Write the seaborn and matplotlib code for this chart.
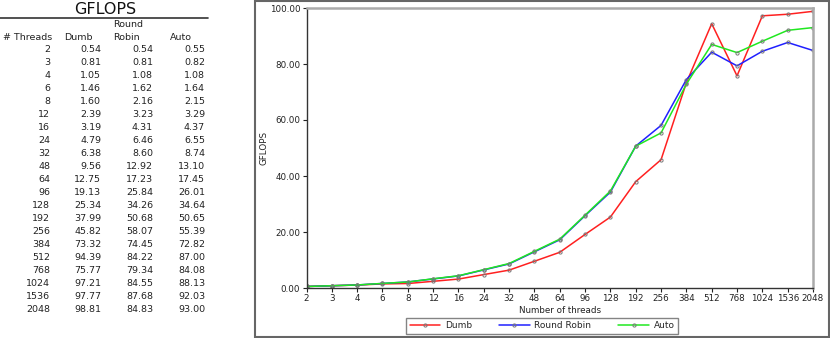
import matplotlib
matplotlib.use("Agg")
import matplotlib.pyplot as plt
import seaborn as sns
import pandas as pd
from matplotlib.patches import Rectangle
from matplotlib.lines import Line2D

threads = ["2", "3", "4", "6", "8", "12", "16", "24", "32", "48", "64", "96",
           "128", "192", "256", "384", "512", "768", "1024", "1536", "2048"]
dumb = [0.54, 0.81, 1.05, 1.46, 1.60, 2.39, 3.19, 4.79, 6.38, 9.56, 12.75, 19.13,
        25.34, 37.99, 45.82, 73.32, 94.39, 75.77, 97.21, 97.77, 98.81]
round_robin = [0.54, 0.81, 1.08, 1.62, 2.16, 3.23, 4.31, 6.46, 8.60, 12.92, 17.23, 25.84,
               34.26, 50.68, 58.07, 74.45, 84.22, 79.34, 84.55, 87.68, 84.83]
auto = [0.55, 0.82, 1.08, 1.64, 2.15, 3.29, 4.37, 6.55, 8.74, 13.10, 17.45, 26.01,
        34.64, 50.65, 55.39, 72.82, 87.00, 84.08, 88.13, 92.03, 93.00]
series_names = ["Dumb", "Round Robin", "Auto"]
series_colors = ["#ff2020", "#2020ff", "#20e820"]
y_ticks = [0, 20, 40, 60, 80, 100]

sns.set_style("white")
plt.rcParams["font.family"] = ["DejaVu Sans"]

W, H = 830, 338
fig = plt.figure(figsize=(W / 100, H / 100), dpi=100)

def fx(x):
    return x / W

def fy(y):
    return 1 - y / H

# ---- table on the left ----
tfs = 6.8
tcol = "#222"
fig.text(fx(105), fy(10), "GFLOPS", ha="center", va="center", fontsize=11.5, color="#111")
fig.add_artist(Line2D([fx(0), fx(208)], [fy(17.5), fy(17.5)], color="#333", lw=1.2))
fig.text(fx(3), fy(37), "# Threads", ha="left", va="center", fontsize=tfs, color=tcol)
fig.text(fx(64), fy(37), "Dumb", ha="left", va="center", fontsize=tfs, color=tcol)
fig.text(fx(113), fy(24.5), "Round", ha="left", va="center", fontsize=tfs, color=tcol)
fig.text(fx(113), fy(37), "Robin", ha="left", va="center", fontsize=tfs, color=tcol)
fig.text(fx(170), fy(37), "Auto", ha="left", va="center", fontsize=tfs, color=tcol)
col_x = [50, 101, 153, 205]
for i, t in enumerate(threads):
    y = 49 + i * 13.05
    vals = [t, f"{dumb[i]:.2f}", f"{round_robin[i]:.2f}", f"{auto[i]:.2f}"]
    for cx, v in zip(col_x, vals):
        fig.text(fx(cx), fy(y), v, ha="right", va="center", fontsize=tfs, color=tcol)

# ---- chart frame ----
fig.add_artist(Rectangle((fx(255), fy(337)), fx(829) - fx(255), fy(0.5) - fy(337),
                         transform=fig.transFigure, fill=False, edgecolor="#666", lw=1.5))

# ---- chart ----
ax = fig.add_axes([fx(306.5), fy(288), fx(813) - fx(306.5), fy(8) - fy(288)])
rows = []
for name, vals in zip(series_names, [dumb, round_robin, auto]):
    for t, v in zip(threads, vals):
        rows.append({"threads": t, "gflops": v, "series": name})
df = pd.DataFrame(rows)

sns.lineplot(data=df, x="threads", y="gflops", hue="series", hue_order=series_names,
             palette=series_colors, ax=ax, marker="o", markersize=2.3,
             markerfacecolor="none", markeredgecolor="#777", markeredgewidth=0.7,
             linewidth=1.1, legend=False, sort=False)

ax.set_xlim(0, len(threads) - 1)
ax.set_ylim(0, 100)
ax.set_xticks(range(len(threads)))
ax.set_xticklabels(threads)
ax.set_yticks(y_ticks)
ax.set_yticklabels([f"{v:.2f}" for v in y_ticks])
ax.tick_params(axis="both", labelsize=6.3, colors="#222", length=3, width=0.8,
               direction="out", pad=1.5)
ax.tick_params(axis="both", bottom=True, left=True)
ax.set_xlabel("Number of threads", fontsize=6.3, color="#222", labelpad=2)
ax.set_ylabel("GFLOPS", fontsize=6.3, color="#222", labelpad=1)
for s in ["left", "bottom"]:
    ax.spines[s].set_color("#333")
    ax.spines[s].set_linewidth(1.0)
for s in ["top", "right"]:
    ax.spines[s].set_color("#aaa")
    ax.spines[s].set_linewidth(1.8)
ax.grid(False)

handles = [Line2D([0], [0], color=c, lw=1.1, marker="o", markersize=2.3,
                  markerfacecolor="none", markeredgecolor="#777", markeredgewidth=0.7)
           for c in series_colors]
leg = fig.legend(handles, series_names, loc="center", bbox_to_anchor=(fx(542), fy(326)),
                 ncol=3, fontsize=6.5, frameon=True, fancybox=False, edgecolor="#666",
                 handlelength=3.4, columnspacing=3.0, borderpad=0.35, handletextpad=0.5)
leg.get_frame().set_linewidth(1.0)

fig.savefig("out.png", dpi=100)
